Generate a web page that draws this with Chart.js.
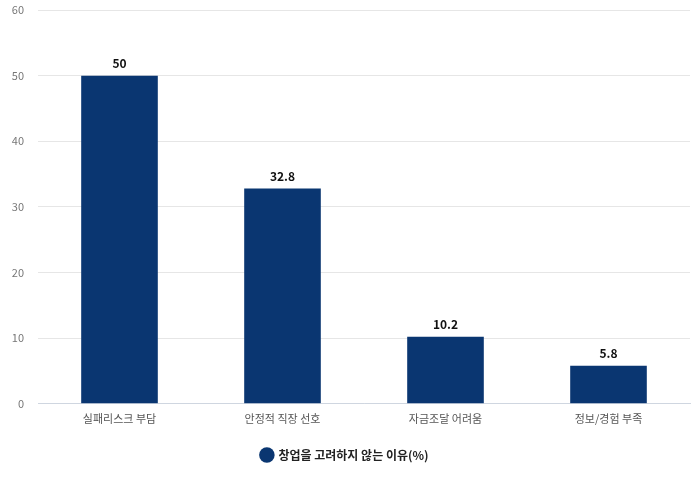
<!DOCTYPE html>
<html>
<head>
<meta charset="utf-8">
<script src="https://cdn.jsdelivr.net/npm/chart.js@4/dist/chart.umd.min.js"></script>
<style>
  html, body { margin: 0; padding: 0; background: #fff; }
  #wrap { width: 700px; height: 480px; }
</style>
</head>
<body>
<div id="wrap"><canvas id="chart"></canvas></div>
<script>
var categories = ['실패리스크 부담', '안정적 직장 선호', '자금조달 어려움', '정보/경험 부족'];
var values = [50, 32.8, 10.2, 5.8];
var seriesName = '창업을 고려하지 않는 이유(%)';
var yTicks = [0, 10, 20, 30, 40, 50, 60];

var barColor = '#0a3671';
var fontFamily = '"Noto Sans CJK KR", "Noto Sans", sans-serif';

// draw value above each bar
var valueLabels = {
  id: 'valueLabels',
  afterDatasetsDraw: function (chart) {
    var ctx = chart.ctx;
    var meta = chart.getDatasetMeta(0);
    ctx.save();
    ctx.font = 'bold 12px ' + fontFamily;
    ctx.fillStyle = '#111';
    ctx.textAlign = 'center';
    ctx.textBaseline = 'bottom';
    meta.data.forEach(function (bar, i) {
      ctx.fillText(String(values[i]), bar.x, bar.y - 6);
    });
    ctx.restore();
  }
};

new Chart(document.getElementById('chart'), {
  type: 'bar',
  data: {
    labels: categories,
    datasets: [{
      label: seriesName,
      data: values,
      backgroundColor: barColor,
      borderWidth: 0,
      categoryPercentage: 1,
      barPercentage: 0.47
    }]
  },
  options: {
    responsive: true,
    maintainAspectRatio: false,
    animation: false,
    layout: { padding: { top: 10, right: 10, left: 0, bottom: 9 } },
    scales: {
      x: {
        grid: { display: false, drawTicks: false },
        border: { color: '#cfd6e0', width: 1 },
        ticks: { color: '#555', font: { family: fontFamily, size: 11 }, padding: 8 }
      },
      y: {
        min: 0,
        max: 60,
        afterBuildTicks: function (axis) {
          axis.ticks = yTicks.map(function (v) { return { value: v }; });
        },
        afterFit: function (axis) { axis.width = 38; axis.paddingTop = 0; },
        grid: { color: '#e6e6e6', drawTicks: false },
        border: { display: false },
        ticks: { color: '#777', font: { family: fontFamily, size: 11 }, padding: 14 }
      }
    },
    plugins: {
      legend: {
        position: 'bottom',
        labels: {
          usePointStyle: true,
          pointStyle: 'circle',
          boxWidth: 11,
          boxHeight: 11,
          color: '#222',
          padding: 16,
          font: { family: fontFamily, size: 12, weight: 'bold' }
        }
      },
      tooltip: { enabled: false }
    }
  },
  plugins: [valueLabels]
});
</script>
</body>
</html>
